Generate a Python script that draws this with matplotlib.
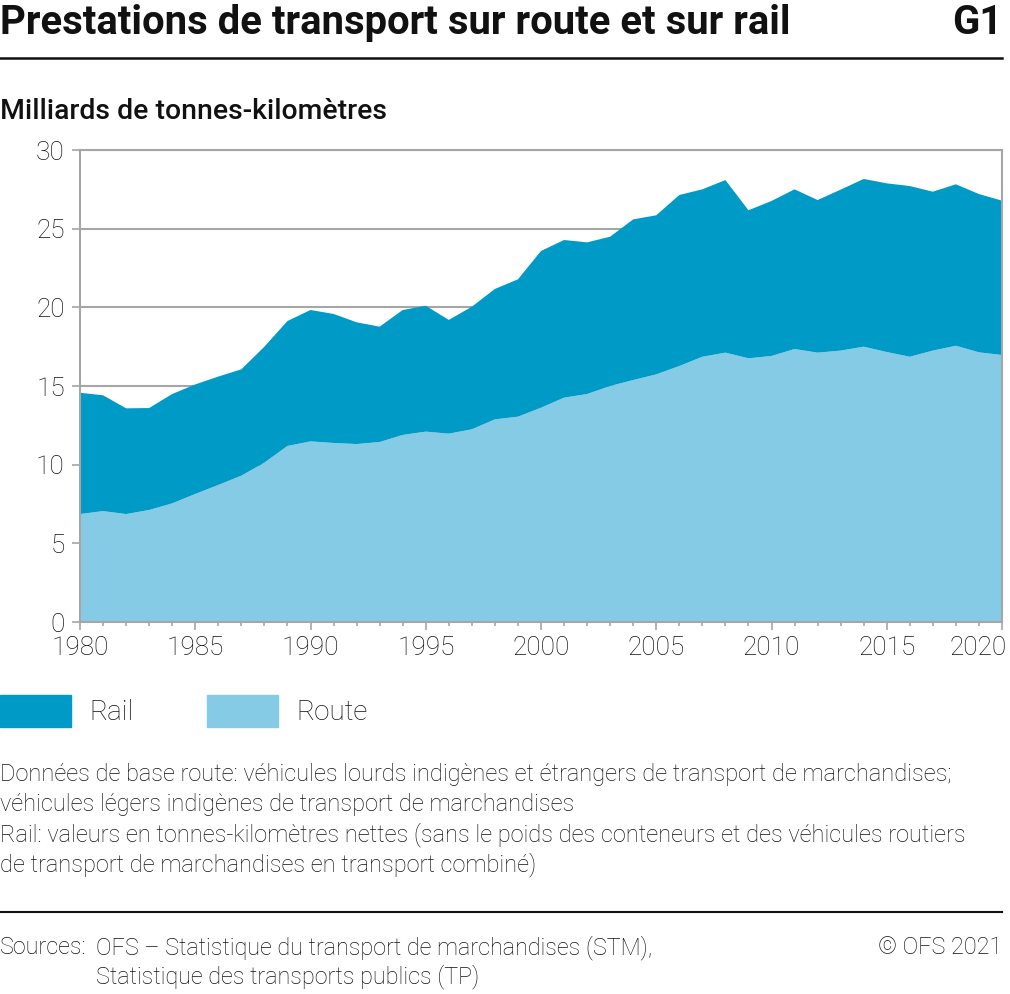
import numpy as np
import matplotlib.pyplot as plt
from matplotlib.ticker import MultipleLocator
from matplotlib.transforms import ScaledTranslation

plt.rcParams['font.family'] = ['Roboto', 'DejaVu Sans']

years = np.arange(1980, 2021)

total = [14.57, 14.41, 13.58, 13.60, 14.49, 15.10, 15.60, 16.06, 17.50, 19.13,
         19.83, 19.58, 19.05, 18.77, 19.83, 20.10, 19.20, 20.04, 21.17, 21.78,
         23.58, 24.28, 24.13, 24.49, 25.59, 25.85, 27.14, 27.50, 28.09, 26.17,
         26.76, 27.50, 26.82, 27.48, 28.16, 27.88, 27.71, 27.35, 27.82, 27.20,
         26.78]
route = [6.86, 7.05, 6.86, 7.12, 7.54, 8.14, 8.71, 9.30, 10.13, 11.19,
         11.48, 11.38, 11.31, 11.44, 11.89, 12.10, 11.97, 12.25, 12.88, 13.05,
         13.62, 14.26, 14.49, 15.00, 15.38, 15.74, 16.27, 16.86, 17.12, 16.76,
         16.91, 17.35, 17.12, 17.25, 17.50, 17.16, 16.86, 17.25, 17.56, 17.14,
         16.97]
rail = np.array(total) - np.array(route)

c_rail = '#009ac7'
c_route = '#86cbe5'
grey = '#a6a6a6'
txt = '#111111'

W, H = 1010, 994
fig = plt.figure(figsize=(W / 100, H / 100), dpi=100)
ax = fig.add_axes([80 / W, 1 - 622 / H, 922 / W, 472 / H])

ax.stackplot(years, route, rail, colors=[c_route, c_rail], linewidth=0, zorder=2)

ax.set_xlim(1980, 2020)
ax.set_ylim(0, 30)
ax.yaxis.set_major_locator(MultipleLocator(5))
ax.xaxis.set_major_locator(MultipleLocator(5))
ax.xaxis.set_minor_locator(MultipleLocator(1))
ax.grid(axis='y', color=grey, linewidth=1.5, zorder=0)
ax.set_axisbelow(True)
for s in ax.spines.values():
    s.set_color(grey)
    s.set_linewidth(1.5)
    s.set_zorder(3)
ax.tick_params(axis='both', which='both', color=grey, width=1.2, labelsize=18.8,
               labelcolor=txt, direction='out')
ax.tick_params(axis='y', length=6, pad=5)
ax.tick_params(axis='x', which='major', length=6, pad=4)
ax.tick_params(axis='x', which='minor', length=3)
for lab in ax.get_xticklabels() + ax.get_yticklabels():
    lab.set_fontweight('light')

fig.canvas.draw()
for lab in ax.get_xticklabels():
    if lab.get_text() == '2020':
        lab.set_horizontalalignment('right')
        lab.set_transform(lab.get_transform() + ScaledTranslation(0.05, 0, fig.dpi_scale_trans))

# header
fig.text(0, 1 - 34 / H, 'Prestations de transport sur route et sur rail', fontsize=28.8,
         fontweight='bold', color=txt, va='baseline')
fig.text(1002 / W, 1 - 34 / H, 'G1', fontsize=28.8, fontweight='bold', color=txt,
         ha='right', va='baseline')
fig.add_artist(plt.Line2D([0, 1002 / W], [1 - 58 / H] * 2, color=txt, linewidth=1.8))
fig.text(0, 1 - 119 / H, 'Milliards de tonnes-kilomètres', fontsize=20.4,
         fontweight='medium', color=txt, va='baseline')

# legend
for x0, col, lab in [(0, c_rail, 'Rail'), (207, c_route, 'Route')]:
    fig.add_artist(plt.Rectangle((x0 / W, 1 - 727 / H), 71 / W, 32 / H,
                                 color=col, transform=fig.transFigure))
    fig.text((x0 + 89) / W, 1 - 720 / H, lab, fontsize=20, fontweight='light',
             color=txt, va='baseline')

notes = ['Données de base route: véhicules lourds indigènes et étrangers de transport de marchandises;',
         'véhicules légers indigènes de transport de marchandises',
         'Rail: valeurs en tonnes-kilomètres nettes (sans le poids des conteneurs et des véhicules routiers',
         'de transport de marchandises en transport combiné)']
for i, line in enumerate(notes):
    fig.text(0, 1 - (781 + 30 * i) / H, line, fontsize=17.0, fontweight='light',
             color=txt, va='baseline')

fig.add_artist(plt.Line2D([0, 1002 / W], [1 - 912 / H] * 2, color=txt, linewidth=1.5))
fs = 16.8
fig.text(0, 1 - 954 / H, 'Sources:', fontsize=fs, fontweight='light', color=txt, va='baseline')
fig.text(96 / W, 1 - 954 / H, 'OFS – Statistique du transport de marchandises (STM),',
         fontsize=fs, fontweight='light', color=txt, va='baseline')
fig.text(96 / W, 1 - 983 / H, 'Statistique des transports publics (TP)',
         fontsize=fs, fontweight='light', color=txt, va='baseline')
fig.text(1002 / W, 1 - 954 / H, '© OFS 2021', fontsize=fs, fontweight='light', color=txt,
         ha='right', va='baseline')

fig.savefig('out.png', dpi=100)
